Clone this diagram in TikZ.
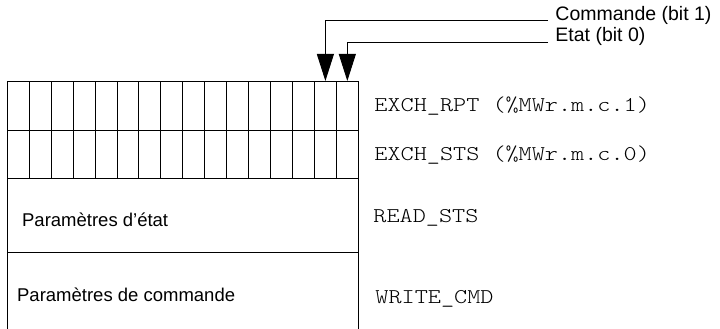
\documentclass[tikz,border=0pt]{standalone}
\usepackage{fontspec}
\setmainfont{Liberation Sans}
\newfontfamily\courfont[Extension=.otf, FakeStretch=1.19]{lmmonolt10-regular}
\usetikzlibrary{arrows.meta}
\begin{document}
\begin{tikzpicture}[x=1pt, y=-1pt, line width=0.9pt,
  cell/.style={draw, minimum width=21.9375pt, inner sep=0pt, outer sep=0pt, anchor=north west},
  bigcell/.style={minimum width=351pt, inner sep=0pt, outer sep=0pt, anchor=north west},
  sanslab/.style={anchor=base west, inner sep=0pt, font=\fontsize{18.5}{22}\selectfont},
  toplab/.style={anchor=base west, inner sep=0pt, font=\fontsize{19.5}{23}\selectfont},
  monolab/.style={anchor=base west, inner sep=0pt, font=\courfont\fontsize{21}{25}\selectfont},
  arr/.style={-{Triangle[length=27pt, width=17pt]}, line width=0.9pt}]
\useasboundingbox (0,0) rectangle (720,329);
% bit grid rows
\foreach \i in {1,...,16}{
  \node[cell, minimum height=49pt] (a\i) at ({7.3+(\i-1)*21.9375}, 81) {};
  \node[cell, minimum height=48pt] (b\i) at ({7.3+(\i-1)*21.9375}, 130) {};
}
\node[bigcell, draw, minimum height=74pt] (r3) at (7.3,178) {};
\node[bigcell, minimum height=78pt] (r4) at (7.3,252) {};
\draw (r4.north west) -- (r4.south west);
\draw (r4.north east) -- (r4.south east);
% labels inside
\node[sanslab] (pe) at (21.7,226.7) {Paramètres d’état};
\node[sanslab] (pc) at (16.7,301) {Paramètres de commande};
% right labels
\node[monolab] (rpt) at (374,111.5) {EXCH\_RPT (\%MWr.m.c.1)};
\node[monolab] (sts) at (374,160.5) {EXCH\_STS (\%MWr.m.c.0)};
\node[monolab] (rd) at (373,222) {READ\_STS};
\node[monolab] (wr) at (375,303) {WRITE\_CMD};
% top labels and arrows
\node[toplab] (cmd) at (555,20.7) {Commande (bit 1)};
\node[toplab] (eta) at (555,42) {Etat (bit 0)};
\coordinate (cmdpt) at (548,20);
\coordinate (etapt) at (548,42.5);
\draw[arr] (cmdpt) -| (a15.north);
\draw[arr] (etapt) -| (a16.north);
\end{tikzpicture}
\end{document}
